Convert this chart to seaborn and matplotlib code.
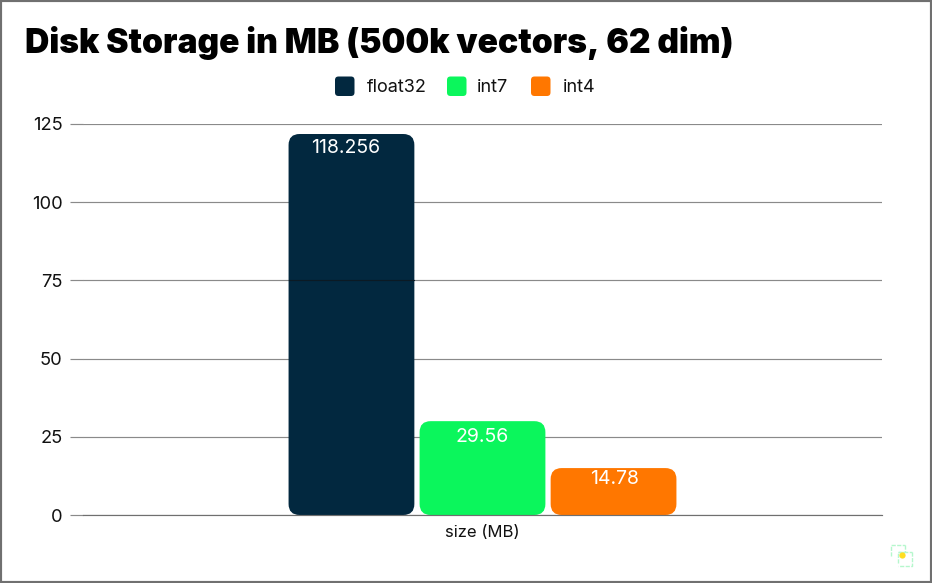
import matplotlib
matplotlib.use("Agg")
import matplotlib.pyplot as plt
from matplotlib.lines import Line2D
from matplotlib.patches import FancyBboxPatch, Rectangle
from matplotlib.transforms import IdentityTransform
import pandas as pd
import seaborn as sns

# Data - bar heights as drawn in the picture, labels as printed on the bars
group = ["size (MB)"]
series = ["float32", "int7", "int4"]
values = [121.8, 30, 15]
value_labels = ["118.256", "29.56", "14.78"]
colors = ["#02283F", "#0BF65C", "#FF7700"]
yticks = [0, 25, 50, 75, 100, 125]
title = "Disk Storage in MB (500k vectors, 62 dim)"

W, H = 932, 583

sns.set_theme(style="white")
plt.rcParams["font.family"] = ["Inter", "DejaVu Sans"]

df = pd.DataFrame({"group": group * len(series), "type": series, "value": values})

fig = plt.figure(figsize=(W / 100, H / 100), dpi=100, facecolor="white")
ax = fig.add_axes([83 / W, 1 - 515 / H, (882 - 83) / W, (515 - 124) / H])

sns.barplot(data=df, x="group", y="value", hue="type", hue_order=series,
            palette=colors, width=0.492, gap=0.04, legend=False, ax=ax)

ax.set_ylim(0, 125)
ax.set_xlim(-0.5, 0.5)
ax.set_yticks(yticks)
ax.set_xlabel("")
ax.set_ylabel("")
ax.yaxis.grid(True, color="#8a8a8a", lw=0.85)
ax.set_axisbelow(True)
for s in ["top", "right", "left"]:
    ax.spines[s].set_visible(False)
ax.spines["bottom"].set_color("#6f6f6f")
ax.spines["bottom"].set_linewidth(0.85)
ax.tick_params(axis="y", left=True, length=9.6, width=0.85, color="#8a8a8a", pad=5,
               labelsize=13.2, labelcolor="#111111")
ax.tick_params(axis="x", length=0, pad=7, labelsize=12, labelcolor="#111111")

# swap the square bars for rounded ones, measured in pixels
fig.canvas.draw()
bars = list(ax.patches)
label_shift = [(-6, -5), (0, -7), (1, -2)]
for bar, color, label, shift in zip(bars, colors, value_labels, label_shift):
    x0, y0 = ax.transData.transform((bar.get_x(), 0))
    x1, y1 = ax.transData.transform((bar.get_x() + bar.get_width(), bar.get_height()))
    bar.set_visible(False)
    ax.add_patch(FancyBboxPatch((x0, y0), x1 - x0, y1 - y0,
                                boxstyle="round,pad=0,rounding_size=11",
                                transform=IdentityTransform(), fc=color, ec="none",
                                zorder=2))
    ax.annotate(label, (bar.get_x() + bar.get_width() / 2, bar.get_height()),
                xytext=shift, textcoords="offset pixels", ha="center", va="top",
                color="white", fontsize=14, zorder=4)

# 75 line shows faintly across the dark bar
ax.plot([bars[0].get_x(), bars[0].get_x() + bars[0].get_width()], [75, 75],
        color="#0b1a24", lw=0.85, zorder=3)

fig.text(25 / W, 1 - 43 / H, title, fontsize=24.2, fontweight="black",
         color="black", va="center", ha="left")

# legend
legend_x = [335, 447, 531]
text_x = [367, 477, 563]
for x, tx, name, color in zip(legend_x, text_x, series, colors):
    fig.add_artist(FancyBboxPatch((x, H - 96), 19.5, 19.5,
                                  boxstyle="round,pad=0,rounding_size=3.5",
                                  transform=IdentityTransform(), fc=color, ec="none"))
    fig.text(tx / W, 1 - 87.5 / H, name, fontsize=13, color="#111111",
             va="center", ha="left")

# outer frame
fig.add_artist(Rectangle((0, 0), 1, 1, transform=fig.transFigure, fill=False,
                         ec="#707070", lw=3))

# little logo in the corner
logo = "#b5f7cc"
for xs, ys in [([891, 891, 905], [556, 545, 545]),
               ([898, 898, 912], [563, 552, 552]),
               ([905, 905, 898], [545, 552, 552]),
               ([912, 912, 898], [552, 566, 566])]:
    fig.add_artist(Line2D([x / W for x in xs], [1 - y / H for y in ys], color=logo, lw=1,
                          ls=(0, (3, 1))))
fig.add_artist(Line2D([902 / W], [1 - 555 / H], marker="o", ms=4.5, color="#FFDD22", mec="none"))

fig.savefig("out.png", dpi=100)
